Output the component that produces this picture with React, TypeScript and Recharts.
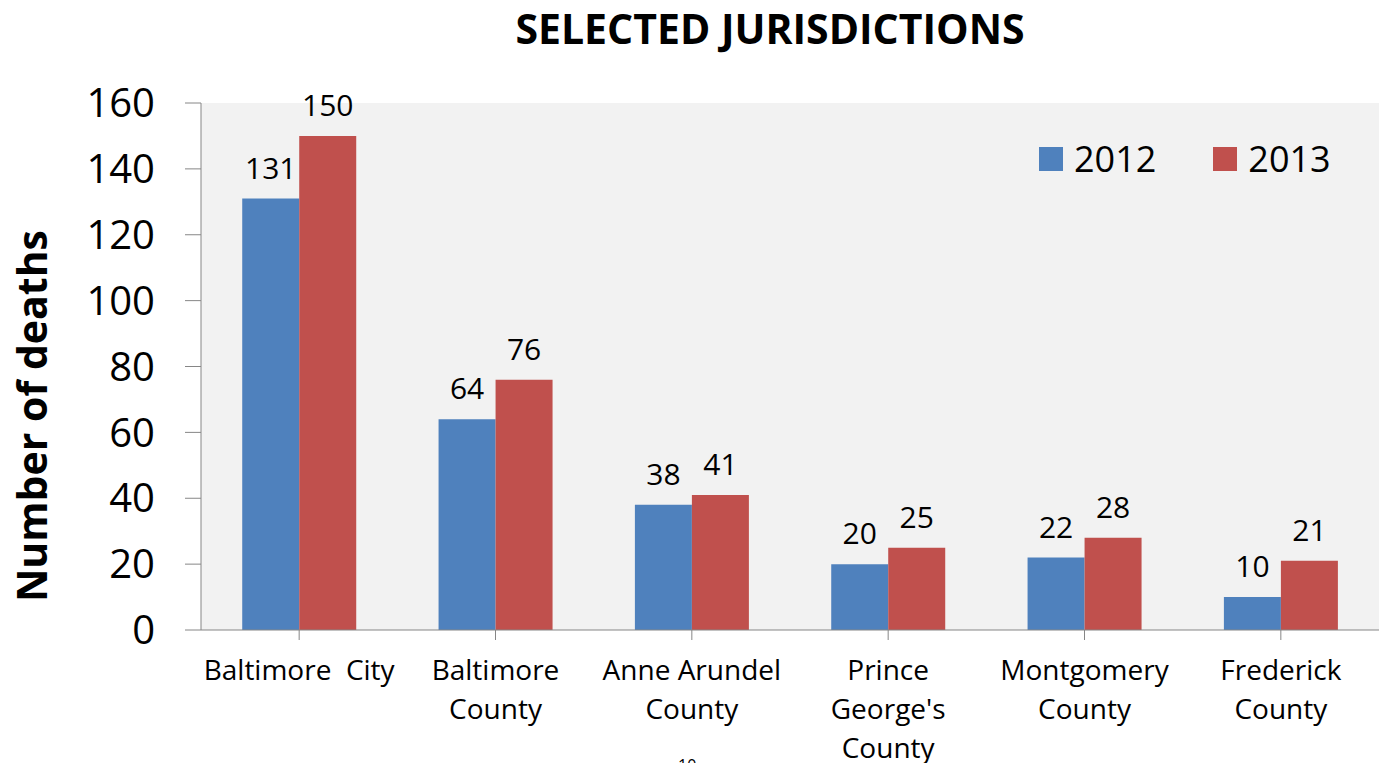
import { BarChart, Bar, XAxis, YAxis, CartesianGrid, LabelList } from 'recharts';

const categories = [
  'Baltimore  City',
  'Baltimore\nCounty',
  'Anne Arundel\nCounty',
  "Prince\nGeorge's\nCounty",
  'Montgomery\nCounty',
  'Frederick\nCounty',
];
const deaths2012 = [131, 64, 38, 20, 22, 10];
const deaths2013 = [150, 76, 41, 25, 28, 21];
const yTicks = [0, 20, 40, 60, 80, 100, 120, 140, 160];
const seriesNames = ['2012', '2013'];
const seriesColors = ['#4f81bd', '#c0504d'];

const data = categories.map((name, i) => ({
  name,
  y2012: deaths2012[i],
  y2013: deaths2013[i],
}));

const FONT = '"Open Sans", sans-serif';
const AXIS = '#868686';

const CategoryTick = (props: any) => {
  const { x, y, payload } = props;
  const lines = String(payload.value).split('\n');
  return (
    <text
      x={x}
      y={y}
      textAnchor="middle"
      fontFamily={FONT}
      fontSize={28}
      fill="#000"
      style={{ whiteSpace: 'pre' }}
    >
      {lines.map((line, i) => (
        <tspan key={i} x={x} dy={i === 0 ? 38 : 39}>
          {line}
        </tspan>
      ))}
    </text>
  );
};

const YTitle = () => (
  <text
    x={47}
    y={416}
    transform="rotate(-90, 47, 416)"
    textAnchor="middle"
    fontFamily={FONT}
    fontWeight={700}
    fontSize={41}
    fill="#000"
  >
    Number of deaths
  </text>
);

export default function App() {
  return (
    <div
      style={{
        position: 'absolute',
        left: 0,
        top: 0,
        width: 1379,
        height: 763,
        overflow: 'hidden',
        background: '#fff',
      }}
    >
      <div
        style={{
          position: 'absolute',
          top: 0,
          left: 0,
          width: 1540,
          textAlign: 'center',
          fontFamily: FONT,
          fontWeight: 700,
          fontSize: 41,
          lineHeight: '56px',
        }}
      >
        SELECTED JURISDICTIONS
      </div>
      <BarChart
        width={1379}
        height={763}
        data={data}
        margin={{ top: 103, right: 0, left: 0, bottom: 0 }}
        barCategoryGap="21%"
        barGap={0}
      >
        <CartesianGrid fill="#f2f2f2" stroke="none" horizontal={false} vertical={false} />
        <XAxis
          dataKey="name"
          height={133}
          interval={0}
          tick={<CategoryTick />}
          tickSize={10}
          axisLine={{ stroke: AXIS }}
          tickLine={{ stroke: AXIS }}
        />
        <YAxis
          width={201}
          domain={[0, 160]}
          ticks={yTicks}
          interval={0}
          tickSize={16}
          tickMargin={30}
          axisLine={{ stroke: AXIS }}
          tickLine={{ stroke: AXIS }}
          tick={{ fill: '#000', fontSize: 40, fontFamily: FONT }}
          label={{ content: <YTitle /> }}
        />
        <Bar dataKey="y2012" name="2012" fill={seriesColors[0]} isAnimationActive={false}>
          <LabelList dataKey="y2012" position="top" offset={20} fill="#000" fontSize={30} fontFamily={FONT} />
        </Bar>
        <Bar dataKey="y2013" name="2013" fill={seriesColors[1]} isAnimationActive={false}>
          <LabelList dataKey="y2013" position="top" offset={20} fill="#000" fontSize={30} fontFamily={FONT} />
        </Bar>
      </BarChart>
      <div
        style={{
          position: 'absolute',
          top: 134,
          left: 1039,
          display: 'flex',
          alignItems: 'center',
          fontFamily: FONT,
          fontSize: 36,
        }}
      >
        {seriesNames.map((n, i) => (
          <div key={n} style={{ display: 'flex', alignItems: 'center', marginRight: i === 0 ? 57 : 0 }}>
            <span style={{ width: 24, height: 24, background: seriesColors[i], display: 'inline-block' }} />
            <span style={{ marginLeft: 11 }}>{n}</span>
          </div>
        ))}
      </div>
      <div
        style={{
          position: 'absolute',
          top: 754,
          left: 678,
          fontFamily: FONT,
          fontSize: 16,
        }}
      >
        10
      </div>
    </div>
  );
}
